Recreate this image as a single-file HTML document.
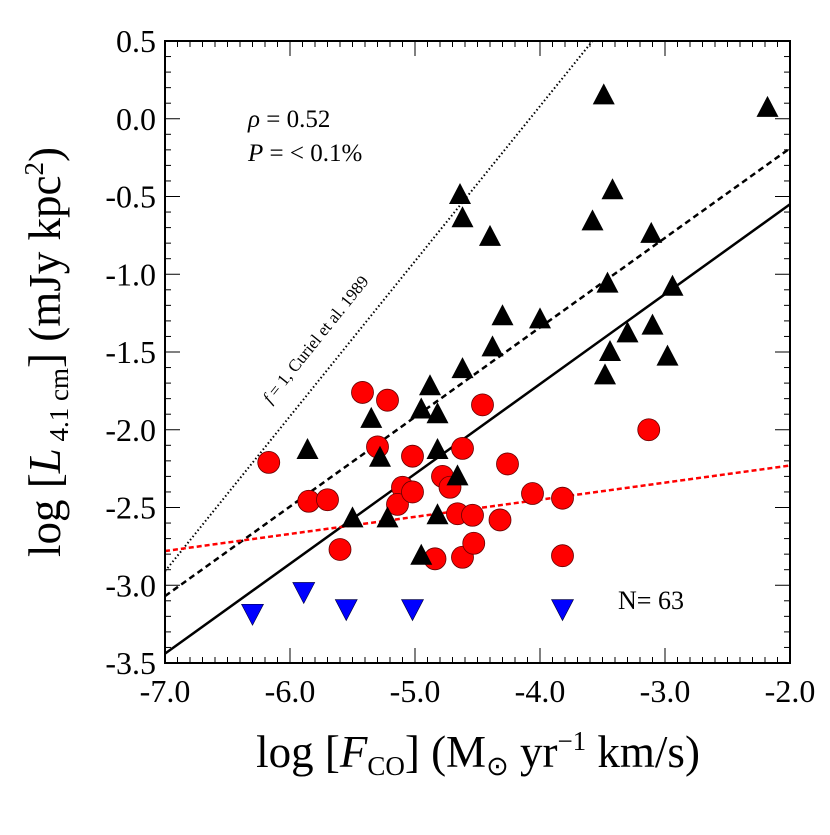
<!DOCTYPE html>
<html><head><meta charset="utf-8"><style>
html,body{margin:0;padding:0;background:#fff;}
svg text{font-family:"Liberation Serif",serif;}
</style></head><body>
<svg id="chart" width="830" height="830" xmlns="http://www.w3.org/2000/svg">
<g id="marks"></g>
<g id="axes"></g>
<text x="248" y="127" font-size="25"><tspan font-style="italic">ρ</tspan> = 0.52</text>
<text x="248" y="161" font-size="25"><tspan font-style="italic">P</tspan>  = &lt; 0.1%</text>
<text x="618" y="609" font-size="26">N= 63</text>
<text transform="translate(320,343) rotate(-51.2)" text-anchor="middle" font-size="17"><tspan font-style="italic">f</tspan> = 1, Curiel et al. 1989</text>
<text x="478" y="767" text-anchor="middle" font-size="45">log [<tspan font-style="italic">F</tspan><tspan font-size="27" dy="8">CO</tspan><tspan dy="-8">] (M</tspan><tspan font-size="27" dy="8">⊙</tspan><tspan dy="-8"> yr</tspan><tspan font-size="27" dy="-17">−1</tspan><tspan dy="17"> km/s)</tspan></text>
<text transform="translate(60,352) rotate(-90)" text-anchor="middle" font-size="45">log [<tspan font-style="italic">L</tspan><tspan font-size="27" dy="8"> 4.1 cm</tspan><tspan dy="-8">] (mJy kpc</tspan><tspan font-size="27" dy="-17">2</tspan><tspan dy="17">)</tspan></text>
</svg>
<script>
const redX=[-6.17,-5.85,-5.70,-5.60,-5.42,-5.22,-5.30,-5.10,-5.14,-5.02,-5.02,-4.78,-4.72,-4.84,-4.66,-4.62,-4.62,-4.53,-4.54,-4.46,-4.26,-4.32,-4.06,-3.82,-3.82,-3.13];
const redY=[-2.21,-2.46,-2.45,-2.77,-1.76,-1.81,-2.11,-2.37,-2.48,-2.17,-2.40,-2.30,-2.37,-2.83,-2.54,-2.12,-2.82,-2.73,-2.55,-1.84,-2.22,-2.58,-2.41,-2.44,-2.81,-2.00];
const triX=[-5.86,-5.50,-5.35,-5.28,-5.22,-4.95,-4.95,-4.88,-4.82,-4.82,-4.82,-4.66,-4.64,-4.62,-4.62,-4.40,-4.38,-4.30,-4.00,-3.58,-3.48,-3.49,-3.44,-3.46,-3.42,-3.30,-3.11,-3.10,-2.98,-2.94,-2.18];
const triY=[-2.13,-2.57,-1.93,-2.18,-2.57,-2.81,-1.87,-1.72,-1.90,-2.13,-2.55,-2.30,-0.49,-0.64,-1.61,-0.76,-1.47,-1.27,-1.29,-0.66,-1.65,0.15,-1.50,-1.06,-0.46,-1.38,-0.74,-1.33,-1.53,-1.08,0.07];
const limX=[-6.30,-5.89,-5.55,-5.02,-3.82];
const limY=[-3.18,-3.04,-3.15,-3.15,-3.15];
const xTicks=[-7.0,-6.0,-5.0,-4.0,-3.0,-2.0];
const yTicks=[0.5,0.0,-0.5,-1.0,-1.5,-2.0,-2.5,-3.0,-3.5];
const solidLine=[[-7,-3.44],[-2,-0.55]];
const dashedLine=[[-7,-3.07],[-2,-0.19]];
const dottedLine=[[-7,-2.91],[-3.58,0.5]];
const redLine=[[-7,-2.78],[-2,-2.23]];

const L=165,R=790,T=41,B=663,x0=-7,x1=-2,y0=-3.5,y1=0.5;
const sx=v=>L+(v-x0)/(x1-x0)*(R-L);
const sy=v=>B-(v-y0)/(y1-y0)*(B-T);
const NS="http://www.w3.org/2000/svg";
const marks=document.getElementById('marks'),axes=document.getElementById('axes');
function mk(tag,attrs,parent){const e=document.createElementNS(NS,tag);for(const k in attrs)e.setAttribute(k,attrs[k]);parent.appendChild(e);return e;}
function line(pts,stroke,dash,w,name){
  const e=mk('line',{x1:sx(pts[0][0]),y1:sy(pts[0][1]),x2:sx(pts[1][0]),y2:sy(pts[1][1]),stroke:stroke,'stroke-width':w,'stroke-dasharray':dash},marks);
  
  
}
line(dottedLine,'#000','1.5 2.5',2,'curiel-line');
line(dashedLine,'#000','6 4',2.5,'dashed-fit-line');
line(solidLine,'#000','none',2.5,'solid-fit-line');
line(redLine,'#f00','5 3',2.5,'red-fit-line');
for(let i=0;i<redX.length;i++){
  const c=mk('circle',{cx:sx(redX[i]),cy:sy(redY[i]),r:11,fill:'#f00',stroke:'#600','stroke-width':0.8},marks);
  
  
}
for(let i=0;i<triX.length;i++){
  const x=sx(triX[i]),y=sy(triY[i]);
  const p=mk('polygon',{points:`${x},${y-12} ${x-11},${y+9} ${x+11},${y+9}`,fill:'#000'},marks);
  
  
}
for(let i=0;i<limX.length;i++){
  const x=sx(limX[i]),y=sy(limY[i]);
  const p=mk('polygon',{points:`${x-11},${y-9} ${x+11},${y-9} ${x},${y+12}`,fill:'#00f',stroke:'#003','stroke-width':0.6},marks);
  
  
}
const frame=mk('rect',{x:L,y:T,width:R-L,height:B-T,fill:'none',stroke:'#000','stroke-width':2},axes);


for(let v=-70;v<=-20;v++){
  const x=sx(v/10),len=(v%10===0)?15:6;
  mk('line',{x1:x,y1:B,x2:x,y2:B-len,stroke:'#000','stroke-width':1},axes);
  mk('line',{x1:x,y1:T,x2:x,y2:T+len,stroke:'#000','stroke-width':1},axes);
}
for(let v=-35;v<=5;v++){
  const y=sy(v/10),len=(v%5===0)?15:6;
  mk('line',{x1:L,y1:y,x2:L+len,y2:y,stroke:'#000','stroke-width':1},axes);
  mk('line',{x1:R,y1:y,x2:R-len,y2:y,stroke:'#000','stroke-width':1},axes);
}
xTicks.forEach(v=>{
  const t=mk('text',{x:sx(v),y:702,'text-anchor':'middle','font-size':32},axes);
  t.textContent=v.toFixed(1);
  
  
});
yTicks.forEach(v=>{
  const t=mk('text',{x:156,y:sy(v)+11,'text-anchor':'end','font-size':32},axes);
  t.textContent=v.toFixed(1);
  
  
});
</script>
</body></html>
